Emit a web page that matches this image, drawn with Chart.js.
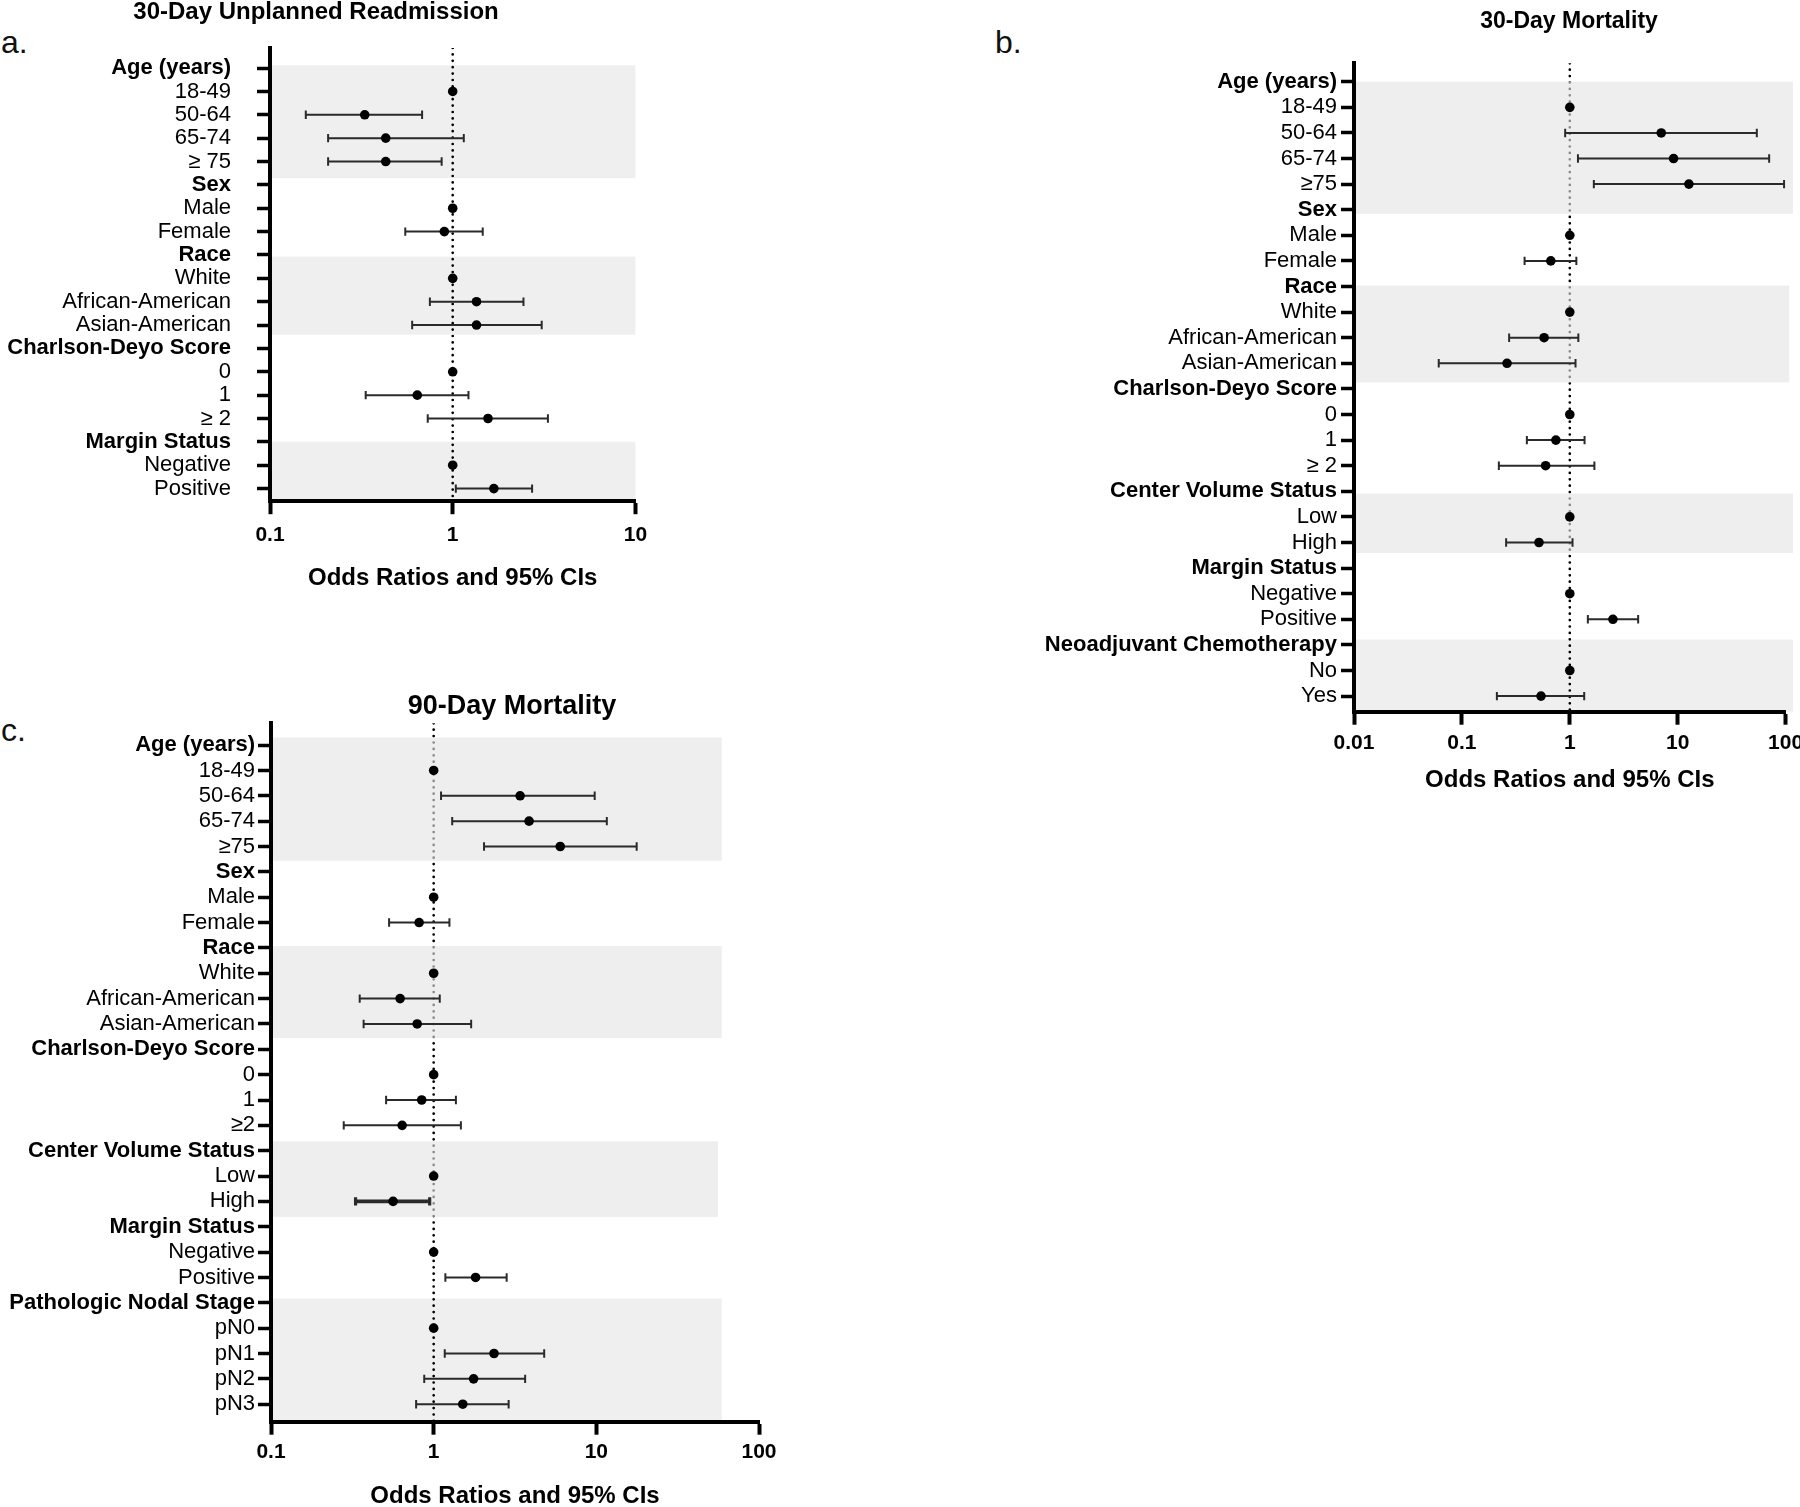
<!DOCTYPE html>
<html>
<head>
<meta charset="utf-8">
<script src="https://cdn.jsdelivr.net/npm/chart.js@4.4.1/dist/chart.umd.min.js"></script>
<style>
html, body { margin: 0; padding: 0; background: #fff; overflow: hidden; width: 1800px; height: 1507px; }
canvas { position: absolute; }
.tag { position: absolute; font-family: "Liberation Sans", Arial, sans-serif; font-size: 32px; line-height: 1; color: #111; }
</style>
</head>
<body>
<div class="tag" style="left:1px;top:26px">a.</div>
<div class="tag" style="left:995px;top:26px">b.</div>
<div class="tag" style="left:1px;top:714px">c.</div>
<canvas id="chartA" width="660" height="600" style="left:0;top:0"></canvas>
<canvas id="chartB" width="840" height="800" style="left:980px;top:0"></canvas>
<canvas id="chartC" width="800" height="850" style="left:0;top:680px"></canvas>
<script>
const FONT = '"Liberation Sans", Arial, Helvetica, sans-serif';

// a. 30-day unplanned readmission
const aLabels = ['Age (years)', '18-49', '50-64', '65-74', '≥ 75', 'Sex', 'Male', 'Female', 'Race', 'White',
  'African-American', 'Asian-American', 'Charlson-Deyo Score', '0', '1', '≥ 2', 'Margin Status', 'Negative', 'Positive'];
const aHeaders = ['Age (years)', 'Sex', 'Race', 'Charlson-Deyo Score', 'Margin Status'];
const aOR   = [null, 1, 0.33, 0.43, 0.43, null, 1, 0.90, null, 1, 1.35, 1.35, null, 1, 0.64, 1.56, null, 1, 1.68];
const aLow  = [null, null, 0.157, 0.208, 0.208, null, null, 0.55, null, null, 0.75, 0.60, null, null, 0.334, 0.73, null, null, 1.04];
const aHigh = [null, null, 0.68, 1.15, 0.87, null, null, 1.46, null, null, 2.44, 3.07, null, null, 1.22, 3.32, null, null, 2.72];
const aTicks = [0.1, 1, 10];

// b. 30-day mortality
const bLabels = ['Age (years)', '18-49', '50-64', '65-74', '≥75', 'Sex', 'Male', 'Female', 'Race', 'White',
  'African-American', 'Asian-American', 'Charlson-Deyo Score', '0', '1', '≥ 2', 'Center Volume Status', 'Low', 'High',
  'Margin Status', 'Negative', 'Positive', 'Neoadjuvant Chemotherapy', 'No', 'Yes'];
const bHeaders = ['Age (years)', 'Sex', 'Race', 'Charlson-Deyo Score', 'Center Volume Status', 'Margin Status', 'Neoadjuvant Chemotherapy'];
const bOR   = [null, 1, 7.04, 9.16, 12.7, null, 1, 0.667, null, 1, 0.578, 0.262, null, 1, 0.743, 0.597, null, 1, 0.518, null, 1, 2.51, null, 1, 0.541];
const bLow  = [null, null, 0.906, 1.19, 1.67, null, null, 0.381, null, null, 0.274, 0.061, null, null, 0.40, 0.22, null, null, 0.257, null, null, 1.47, null, null, 0.211];
const bHigh = [null, null, 54.1, 70.4, 96.8, null, null, 1.15, null, null, 1.20, 1.13, null, null, 1.37, 1.69, null, null, 1.06, null, null, 4.30, null, null, 1.36];
const bTicks = [0.01, 0.1, 1, 10, 100];

// c. 90-day mortality
const cLabels = ['Age (years)', '18-49', '50-64', '65-74', '≥75', 'Sex', 'Male', 'Female', 'Race', 'White',
  'African-American', 'Asian-American', 'Charlson-Deyo Score', '0', '1', '≥2', 'Center Volume Status', 'Low', 'High',
  'Margin Status', 'Negative', 'Positive', 'Pathologic Nodal Stage', 'pN0', 'pN1', 'pN2', 'pN3'];
const cHeaders = ['Age (years)', 'Sex', 'Race', 'Charlson-Deyo Score', 'Center Volume Status', 'Margin Status', 'Pathologic Nodal Stage'];
const cOR   = [null, 1, 3.40, 3.86, 6.0, null, 1, 0.814, null, 1, 0.622, 0.792, null, 1, 0.844, 0.64, null, 1, 0.563, null, 1, 1.81, null, 1, 2.35, 1.76, 1.51];
const cLow  = [null, null, 1.11, 1.30, 2.04, null, null, 0.532, null, null, 0.351, 0.371, null, null, 0.51, 0.28, null, null, 0.331, null, null, 1.18, null, null, 1.17, 0.875, 0.78];
const cHigh = [null, null, 9.77, 11.6, 17.7, null, null, 1.25, null, null, 1.09, 1.70, null, null, 1.37, 1.47, null, null, 0.945, null, null, 2.81, null, null, 4.78, 3.65, 2.89];
const cTicks = [0.1, 1, 10, 100];

function fillBand(chart, b, color, inset) {
  const { ctx, chartArea, scales: { x, y } } = chart;
  const top = Math.max(y.getPixelForValue(b[0]), chartArea.top);
  const bottom = Math.min(y.getPixelForValue(b[1]), chartArea.bottom - inset);
  const left = chartArea.left + inset;
  ctx.save();
  ctx.fillStyle = color;
  ctx.fillRect(left, top, x.getPixelForValue(b[2]) - left, bottom - top);
  ctx.restore();
}

// grey group bands + panel title
// bands flagged "over" sit on top of the dotted 1.0 line (it shows grey there)
const panelDecor = {
  id: 'panelDecor',
  beforeDraw(chart, args, opts) {
    opts.bands.filter(b => !b[3]).forEach(b => fillBand(chart, b, '#efefef', 0));
  },
  afterDatasetDraw(chart, args, opts) {
    if (args.index !== 2) return;
    opts.bands.filter(b => b[3]).forEach(b => fillBand(chart, b, 'rgba(228,228,228,0.62)', 2));
  },
  afterDraw(chart, args, opts) {
    const ctx = chart.ctx;
    ctx.save();
    ctx.font = 'bold ' + opts.titleSize + 'px ' + FONT;
    ctx.fillStyle = '#000';
    ctx.textAlign = 'center';
    ctx.textBaseline = 'middle';
    ctx.fillText(opts.title, opts.titleX, opts.titleY);
    ctx.restore();
  }
};

function forestPanel(id, cfg, labels, headers, or, low, high, xTicks) {
  const points = [];
  const bars = [];
  labels.forEach((_, i) => {
    if (or[i] !== null) points.push({ x: or[i], y: i });
    if (low[i] !== null) bars.push({ x: low[i], y: i }, { x: high[i], y: i }, { x: null, y: null });
  });
  const thick = ctx => ctx.raw && ctx.raw.y === cfg.thickRow;

  return new Chart(document.getElementById(id), {
    type: 'line',
    data: {
      datasets: [
        { data: points, showLine: false, pointRadius: 4.8, pointBackgroundColor: '#000', pointBorderWidth: 0 },
        { data: bars, borderColor: '#2a2a2a', borderWidth: 2, spanGaps: false,
          segment: { borderWidth: s => s.p0.raw.y === cfg.thickRow ? 3.6 : 2 },
          pointStyle: 'line', pointRotation: 90, pointRadius: 4.2,
          pointBorderWidth: c => thick(c) ? 3.2 : 2, pointBorderColor: '#2a2a2a' },
        { data: [{ x: 1, y: cfg.yMin }, { x: 1, y: cfg.yMax }], borderColor: '#000', borderWidth: 2.7,
          borderDash: [0, 6.4], borderCapStyle: 'round', pointRadius: 0 }
      ]
    },
    options: {
      responsive: false,
      animation: false,
      events: [],
      layout: { padding: { top: cfg.padTop, right: cfg.padRight, bottom: 0, left: 0 } },
      scales: {
        x: {
          type: 'logarithmic',
          min: xTicks[0],
          max: xTicks[xTicks.length - 1],
          afterBuildTicks: s => { s.ticks = xTicks.map(v => ({ value: v })); },
          afterFit: s => { s.height = cfg.xHeight; },
          ticks: { autoSkip: false, maxRotation: 0, padding: cfg.xTickPad, color: '#000',
            font: { family: FONT, size: 21, weight: 'bold' }, callback: v => String(v) },
          grid: { drawOnChartArea: false, tickLength: 13, tickWidth: 4, tickColor: '#000' },
          border: { color: '#000', width: 4 },
          title: { display: true, text: 'Odds Ratios and 95% CIs', color: '#000',
            font: { family: FONT, size: 24, weight: 'bold' }, padding: { top: 0, bottom: cfg.xTitlePad } }
        },
        y: {
          type: 'linear',
          reverse: true,
          min: cfg.yMin,
          max: cfg.yMax,
          afterBuildTicks: s => { s.ticks = labels.map((_, i) => ({ value: i })); },
          afterFit: s => { s.width = cfg.yWidth; },
          ticks: {
            autoSkip: false, padding: cfg.yTickPad, color: '#000',
            font: c => ({ family: FONT, size: 22,
              weight: c.tick && headers.includes(labels[c.tick.value]) ? 'bold' : 'normal' }),
            callback: v => labels[v]
          },
          grid: { drawOnChartArea: false, tickLength: 13, tickWidth: 3.5, tickColor: '#000' },
          border: { color: '#000', width: 4 }
        }
      },
      plugins: {
        legend: { display: false },
        tooltip: { enabled: false },
        panelDecor: { bands: cfg.bands, title: cfg.title, titleX: cfg.titleX, titleY: cfg.titleY, titleSize: cfg.titleSize }
      }
    },
    plugins: [panelDecor]
  });
}

forestPanel('chartA', {
  padTop: 48, padRight: 24.6, yWidth: 270, xHeight: 98.8, yMin: -0.86, yMax: 18.54,
  xTickPad: 8, xTitlePad: 6.8, yTickPad: 26, thickRow: -1,
  bands: [[-0.115, 4.71, 10, false], [8.07, 11.41, 10, false], [15.99, 19, 10, false]],
  title: '30-Day Unplanned Readmission', titleX: 316, titleY: 12, titleSize: 24
}, aLabels, aHeaders, aOR, aLow, aHigh, aTicks);

forestPanel('chartB', {
  padTop: 63.3, padRight: 34.4, yWidth: 374, xHeight: 88.3, yMin: -0.72, yMax: 24.61,
  xTickPad: 6, xTitlePad: 5.6, yTickPad: 4, thickRow: -1,
  bands: [[0, 5.16, 117, true], [7.96, 11.75, 108, true], [16.09, 18.41, 117, true], [21.79, 25, 117, false]],
  title: '30-Day Mortality', titleX: 589, titleY: 22, titleSize: 23
}, bLabels, bHeaders, bOR, bLow, bHigh, bTicks);

forestPanel('chartC', {
  padTop: 43.3, padRight: 41, yWidth: 271, xHeight: 108.3, yMin: -0.86, yMax: 26.69,
  xTickPad: 5, xTitlePad: 18.9, yTickPad: 3, thickRow: 18,
  bands: [[-0.30, 4.56, 59, true], [7.93, 11.56, 59, true], [15.63, 18.61, 56, true], [21.83, 27, 59, false]],
  title: '90-Day Mortality', titleX: 512, titleY: 27, titleSize: 27
}, cLabels, cHeaders, cOR, cLow, cHigh, cTicks);
</script>
</body>
</html>
